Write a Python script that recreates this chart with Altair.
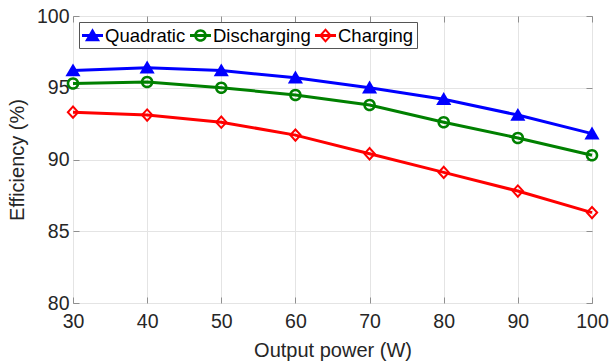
import altair as alt
import pandas as pd

power = [30, 40, 50, 60, 70, 80, 90, 100]
quadratic = [96.2, 96.4, 96.2, 95.7, 95.0, 94.2, 93.1, 91.8]
discharging = [95.3, 95.4, 95.0, 94.5, 93.8, 92.6, 91.5, 90.3]
charging = [93.3, 93.1, 92.6, 91.7, 90.4, 89.1, 87.8, 86.3]

series_names = ["Quadratic", "Discharging", "Charging"]
series_colors = ["#0000ff", "#008000", "#ff0000"]
x_ticks = [30, 40, 50, 60, 70, 80, 90, 100]
y_ticks = [80, 85, 90, 95, 100]

rows = []
for name, vals in zip(series_names, [quadratic, discharging, charging]):
    for p, v in zip(power, vals):
        rows.append({"power": p, "eff": v, "series": name})
df = pd.DataFrame(rows)

# marker shapes (unit square -1..1 scaled by sqrt(size))
tri = "M0,-0.68L0.72,0.55L-0.72,0.55Z"
ring = ("M0.6,0A0.6,0.6 0 1,1 -0.6,0A0.6,0.6 0 1,1 0.6,0Z"
        "M0.36,0A0.36,0.36 0 1,0 -0.36,0A0.36,0.36 0 1,0 0.36,0Z")
dia = "M0,-0.68L0.62,0L0,0.68L-0.62,0ZM0,-0.4L-0.36,0L0,0.4L0.36,0Z"
bar = "M-1,-0.15H1V0.15H-1Z"
marker_shapes = [tri, ring, dia]
legend_shapes = [bar + s for s in marker_shapes]

AX = "#262626"
FRAME = "#8f8f8f"
GRID = "#e4e4e4"
FONT = "Liberation Sans"

xscale = alt.Scale(domain=[30, 100], nice=False, zero=False)
yscale = alt.Scale(domain=[80, 100], nice=False, zero=False)

def cscale():
    return alt.Scale(domain=series_names, range=series_colors)

base = alt.Chart(df)

lines = base.mark_line(strokeWidth=3).encode(
    x=alt.X("power:Q", scale=xscale, axis=alt.Axis(
        orient="bottom", values=x_ticks, title="Output power (W)",
        labelFontSize=19.5, labelColor=AX, labelPadding=15, labelFlush=False,
        tickSize={"expr": "-6"}, tickColor=FRAME, domain=False,
        grid=True, gridColor=GRID, titleFontSize=20, titleColor=AX,
        titleFontWeight="normal", titleBaseline="middle", titleY=47)),
    y=alt.Y("eff:Q", scale=yscale, axis=alt.Axis(
        orient="left", values=y_ticks, title="Efficiency (%)",
        labelFontSize=19.5, labelColor=AX, labelPadding=10, labelFlush=False,
        tickSize={"expr": "-6"}, tickColor=FRAME, domain=False,
        grid=True, gridColor=GRID, titleFontSize=20, titleColor=AX,
        titleFontWeight="normal", titleBaseline="middle", titleX=-56)),
    color=alt.Color("series:N", scale=cscale(), legend=None),
    detail="series:N",
)

points = base.mark_point(filled=True, opacity=1, size=441, strokeWidth=0).encode(
    x=alt.X("power:Q", scale=xscale, axis=alt.Axis(
        orient="top", values=x_ticks, title=None, labels=False,
        tickSize={"expr": "-6"}, tickColor=FRAME, domain=False, grid=False)),
    y=alt.Y("eff:Q", scale=yscale, axis=alt.Axis(
        orient="right", values=y_ticks, title=None, labels=False,
        tickSize={"expr": "-6"}, tickColor=FRAME, domain=False, grid=False)),
    color=alt.Color("series:N", scale=cscale(), legend=None),
    shape=alt.Shape("series:N", scale=alt.Scale(domain=series_names, range=marker_shapes), legend=None),
)

leg = alt.Legend(
    orient="none", legendX=6, legendY=6, direction="horizontal", columns=3,
    title=None, fillColor="white", strokeColor="#555555", padding=3,
    symbolSize=441, symbolStrokeWidth=0, labelFontSize=18.5, labelFont=FONT,
    labelColor="black", labelOffset=2, columnPadding=4, rowPadding=0,
)

legend_layer = base.transform_filter(alt.datum.power > 1000).mark_point(
    filled=True, opacity=1, size=441, strokeWidth=0).encode(
    x=alt.X("power:Q", scale=xscale, axis=None),
    y=alt.Y("eff:Q", scale=yscale, axis=None),
    color=alt.Color("series:N", scale=cscale(), legend=leg),
    shape=alt.Shape("series:N", scale=alt.Scale(domain=series_names, range=legend_shapes), legend=leg),
)

chart = alt.layer(lines, points, legend_layer).resolve_scale(
    color="independent", shape="independent"
).resolve_axis(
    x="independent", y="independent"
).properties(
    width=519, height=287,
    autosize=alt.AutoSizeParams(type="none"),
    padding={"left": 73, "top": 16, "right": 19, "bottom": 60},
).configure(font=FONT).configure_view(stroke=FRAME, strokeWidth=1)

chart.save("out.html", embed_options={"renderer": "svg", "actions": False})
